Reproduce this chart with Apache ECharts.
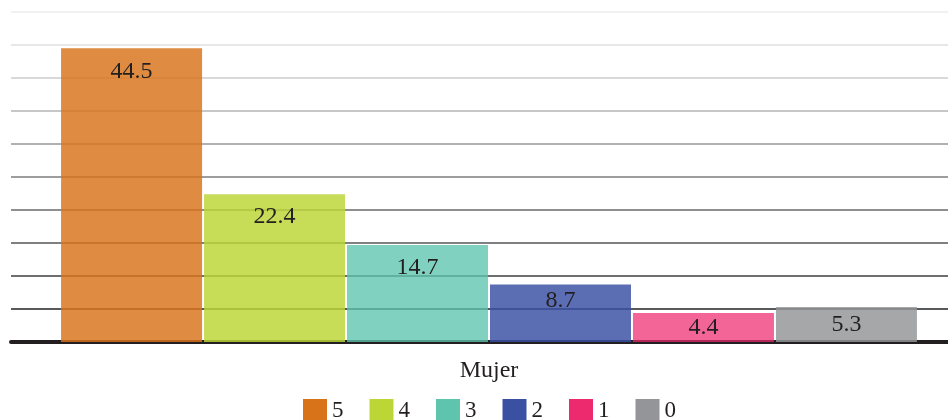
<!DOCTYPE html>
<html><head><meta charset="utf-8">
<script src="https://cdn.jsdelivr.net/npm/echarts@6/dist/echarts.min.js"></script>
<style>html,body{margin:0;padding:0;background:#fff}#c{width:948px;height:420px}</style>
</head><body><div id="c"></div>
<script>
var categories = ['Mujer'];
var seriesNames = ['5', '4', '3', '2', '1', '0'];
var seriesValues = [44.5, 22.4, 14.7, 8.7, 4.4, 5.3];
var colors = ['#D9731A', '#BCD635', '#5EC4AE', '#3A51A3', '#EE2A6E', '#939598'];
var barColors = ['rgba(217,115,26,0.83)', 'rgba(188,214,53,0.83)', 'rgba(94,196,174,0.78)', 'rgba(58,81,163,0.83)', 'rgba(238,42,110,0.72)', 'rgba(147,149,152,0.83)'];
var gridColors = ['#231f20', '#58595b', '#6d6e70', '#7f8082', '#8e8f91', '#9c9d9f', '#b0b1b3', '#c6c7c9', '#d9d9db', '#e6e7e8', '#f1f1f2'];
var FONT = '"Liberation Serif", "DejaVu Serif", serif';
var chart = echarts.init(document.getElementById('c'));
var series = seriesNames.map(function (n, i) {
  var v = seriesValues[i];
  var small = v < 6;
  return {
    name: n, type: 'bar', xAxisIndex: 1, yAxisIndex: 1,
    data: [v],
    barWidth: 141, barGap: '1.4%',
    itemStyle: { color: barColors[i] },
    label: {
      show: true, position: small ? 'inside' : 'insideTop', distance: v < 10 ? 4 : 11,
      color: '#231f20', fontFamily: FONT, fontSize: 24,
      formatter: function (p) { return p.value.toFixed(1); }
    }
  };
});
chart.setOption({
  animation: false,
  grid: [
    { left: 11, right: 0, top: 12, bottom: 78, containLabel: false },
    { left: 30, right: 0, top: 12, bottom: 78, containLabel: false }
  ],
  legend: {
    data: seriesNames.map(function (n, i) { return { name: n, itemStyle: { color: colors[i], opacity: 1 } }; }),
    top: 394, left: 298,
    itemWidth: 24, itemHeight: 24, itemGap: 26, icon: 'rect',
    textStyle: { color: '#231f20', fontFamily: FONT, fontSize: 23 }
  },
  xAxis: [{
    type: 'category', gridIndex: 0, data: categories,
    axisLine: { show: true, lineStyle: { color: '#231f20', width: 4 } },
    axisTick: { show: false }, axisLabel: { show: false }
  }, {
    type: 'category', gridIndex: 1, data: categories,
    axisLine: { show: false }, axisTick: { show: false },
    axisLabel: { color: '#231f20', fontFamily: FONT, fontSize: 24, margin: 17 }
  }],
  yAxis: [{
    type: 'value', gridIndex: 0, min: 0, max: 50, interval: 5,
    axisLabel: { show: false }, axisLine: { show: false }, axisTick: { show: false },
    splitLine: { show: true, lineStyle: { color: gridColors, width: 2 } }
  }, {
    type: 'value', gridIndex: 1, min: 0, max: 50, interval: 5,
    axisLabel: { show: false }, axisLine: { show: false }, axisTick: { show: false },
    splitLine: { show: false }
  }],
  series: series
});
</script></body></html>
